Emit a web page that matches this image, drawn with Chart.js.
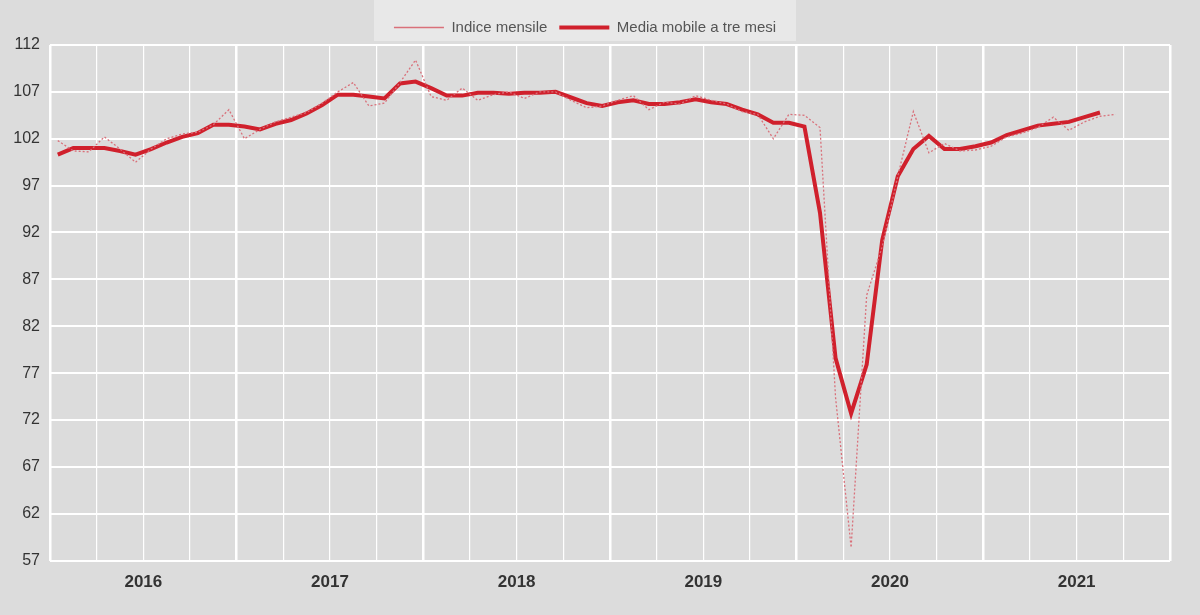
<!DOCTYPE html>
<html>
<head>
<meta charset="utf-8">
<script src="https://cdn.jsdelivr.net/npm/chart.js@4/dist/chart.umd.min.js"></script>
<style>
  html, body { margin: 0; padding: 0; background: #dcdcdc; }
  #wrap { width: 1200px; height: 615px; position: relative; }
</style>
</head>
<body>
<div id="wrap"><canvas id="chart" width="1200" height="615"></canvas></div>
<script>
// Monthly values starting January 2016
const startYear = 2016;
const indiceMensile = [
    101.8, 100.7, 100.6, 102.2, 100.9, 99.5, 100.9, 102.0, 102.5, 102.7, 103.5, 105.1,
    102.0, 103.0, 103.8, 104.3, 104.8, 105.8, 107.0, 108.0, 105.5, 105.8, 108.0, 110.4,
    106.5, 106.1, 107.4, 106.1, 106.7, 107.0, 106.3, 107.0, 107.0, 106.1, 105.3, 105.5,
    106.1, 106.6, 105.1, 105.9, 105.7, 106.6, 106.1, 105.7, 104.9, 104.6, 102.0, 104.6,
    104.5, 103.2, 74.4, 58.4, 85.3, 90.5, 98.0, 104.9, 100.5, 101.5, 100.7, 100.8,
    101.2, 102.2, 102.6, 103.2, 104.3, 102.9, 103.8, 104.4, 104.6
];
const mediaMobile = [
    100.3, 101.0, 101.0, 101.0, 100.7, 100.3, 100.9, 101.6, 102.2, 102.6, 103.5, 103.5,
    103.3, 103.0, 103.6, 104.0, 104.7, 105.6, 106.7, 106.7, 106.5, 106.3, 107.9, 108.1,
    107.4, 106.6, 106.6, 106.9, 106.9, 106.8, 106.9, 106.9, 107.0, 106.4, 105.8, 105.5,
    105.9, 106.1, 105.7, 105.7, 105.9, 106.2, 105.9, 105.7, 105.1, 104.6, 103.7, 103.7,
    103.3, 94.1, 78.6, 72.7, 77.9, 91.2, 98.0, 100.9, 102.3, 100.9, 100.9, 101.2,
    101.6, 102.4, 102.9, 103.4, 103.6, 103.8, 104.3, 104.8
];
const yTicks = [57, 62, 67, 72, 77, 82, 87, 92, 97, 102, 107, 112];

const toPoints = arr => arr.map((v, i) => ({ x: i + 0.5, y: v }));

const ctx = document.getElementById('chart').getContext('2d');
new Chart(ctx, {
    type: 'line',
    data: {
        datasets: [
            {
                label: 'Indice mensile',
                data: toPoints(indiceMensile),
                borderColor: '#d9707a',
                borderWidth: 1.3,
                borderDash: [2, 2],
                pointRadius: 0,
                tension: 0
            },
            {
                label: 'Media mobile a tre mesi',
                data: toPoints(mediaMobile),
                borderColor: '#d0202c',
                borderWidth: 4,
                pointRadius: 0,
                tension: 0
            }
        ]
    },
    options: {
        responsive: false,
        animation: false,
        layout: { padding: { top: 8, right: 30, left: 0, bottom: 10 } },
        plugins: {
            legend: {
                position: 'top',
                labels: {
                    color: '#555',
                    font: { family: 'Liberation Sans', size: 15 },
                    boxWidth: 50,
                    boxHeight: 0,
                    useBorderRadius: false,
                    padding: 12
                }
            },
            tooltip: { enabled: false }
        },
        scales: {
            x: {
                type: 'linear',
                min: 0,
                max: 72,
                border: { display: false },
                ticks: {
                    stepSize: 3,
                    autoSkip: false,
                    padding: 12,
                    color: '#333',
                    font: { family: 'Liberation Sans', size: 17, weight: 'bold' },
                    callback: v => (v % 12 === 6 ? String(startYear + (v - 6) / 12) : '')
                },
                grid: {
                    color: '#ffffff',
                    drawTicks: false,
                    lineWidth: c => (c.tick && c.tick.value % 12 === 0 ? 2.5 : 1.2)
                }
            },
            y: {
                min: 57,
                max: 112,
                border: { display: false },
                afterFit: s => { s.width = 50; },
                afterBuildTicks: s => { s.ticks = yTicks.map(v => ({ value: v })); },
                ticks: {
                    color: '#333',
                    font: { family: 'Liberation Sans', size: 16 },
                    padding: 10
                },
                grid: { color: '#ffffff', lineWidth: 2, drawTicks: false }
            }
        }
    },
    plugins: [{
        id: 'legendBox',
        beforeDraw(chart) {
            const l = chart.legend;
            const c = chart.ctx;
            c.save();
            c.fillStyle = '#dcdcdc';
            c.fillRect(0, 0, chart.width, chart.height);
            if (l && l.legendItems.length) {
                const hb = l.legendHitBoxes;
                const x0 = hb[0].left - 20;
                const x1 = hb[hb.length - 1].left + hb[hb.length - 1].width + 20;
                c.fillStyle = '#e8e8e8';
                c.fillRect(x0, 0, x1 - x0, l.bottom - 4);
            }
            c.restore();
        }
    }]
});
</script>
</body>
</html>
